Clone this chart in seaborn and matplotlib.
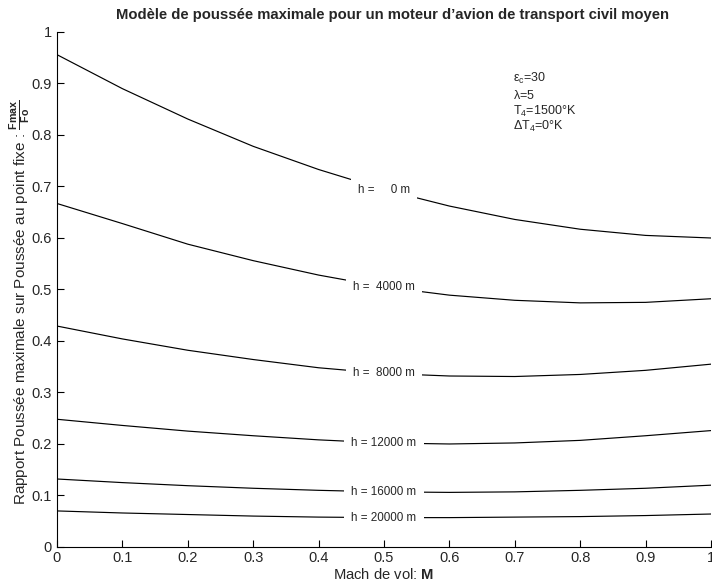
import matplotlib
matplotlib.use("Agg")
import matplotlib.pyplot as plt
import pandas as pd
import seaborn as sns

# Mach numbers and thrust ratio, one list per altitude
mach = [0.0, 0.1, 0.2, 0.3, 0.4, 0.5, 0.6, 0.7, 0.8, 0.9, 1.0]
altitudes = [0, 4000, 8000, 12000, 16000, 20000]
ratio_0 = [0.956, 0.890, 0.831, 0.778, 0.733, 0.694, 0.662, 0.636, 0.617, 0.605, 0.600]
ratio_4000 = [0.667, 0.628, 0.588, 0.556, 0.528, 0.505, 0.489, 0.479, 0.474, 0.475, 0.482]
ratio_8000 = [0.429, 0.404, 0.382, 0.364, 0.348, 0.337, 0.332, 0.331, 0.335, 0.343, 0.355]
ratio_12000 = [0.248, 0.236, 0.225, 0.216, 0.208, 0.202, 0.200, 0.202, 0.207, 0.216, 0.226]
ratio_16000 = [0.132, 0.125, 0.119, 0.114, 0.110, 0.107, 0.106, 0.107, 0.110, 0.114, 0.120]
ratio_20000 = [0.070, 0.066, 0.063, 0.060, 0.058, 0.057, 0.057, 0.058, 0.059, 0.061, 0.064]
ticks = [0, 0.1, 0.2, 0.3, 0.4, 0.5, 0.6, 0.7, 0.8, 0.9, 1]
tick_labels = ["0", "0.1", "0.2", "0.3", "0.4", "0.5", "0.6", "0.7", "0.8", "0.9", "1"]

series = [ratio_0, ratio_4000, ratio_8000, ratio_12000, ratio_16000, ratio_20000]
frames = []
for h, r in zip(altitudes, series):
    frames.append(pd.DataFrame({"M": mach, "ratio": r, "h": h}))
df = pd.concat(frames, ignore_index=True)

sns.set_style("ticks")
plt.rcParams["font.family"] = ["Liberation Sans", "DejaVu Sans"]
plt.rcParams["mathtext.fontset"] = "custom"
plt.rcParams["mathtext.rm"] = "Liberation Sans"
plt.rcParams["mathtext.it"] = "Liberation Sans"
plt.rcParams["mathtext.bf"] = "Liberation Sans:bold"
plt.rcParams["xtick.direction"] = "in"
plt.rcParams["ytick.direction"] = "in"

fig = plt.figure(figsize=(7.12, 5.86), dpi=100)
ax = fig.add_axes([0.080, 0.0666, 0.9186, 0.8788])

sns.lineplot(data=df, x="M", y="ratio", units="h", estimator=None,
             color="black", linewidth=0.85, ax=ax)

# inline labels at M = 0.5, white box breaks the line like clabel
mid = mach.index(0.5)
for h, r in zip(altitudes, series):
    ax.text(mach[mid], r[mid], f"h = {h:5d} m",
            ha="center", va="center", fontsize=8.4,
            bbox=dict(boxstyle="square,pad=0.6", facecolor="white", edgecolor="none"))

ax.text(0.697, 0.909, r"$\varepsilon_{c}$=30", fontsize=9, va="center")
ax.text(0.697, 0.876, r"$\lambda$=5", fontsize=9, va="center")
ax.text(0.697, 0.846, r"T$_{4}$=1500°K", fontsize=9, va="center")
ax.text(0.697, 0.816, r"$\Delta$T$_{4}$=0°K", fontsize=9, va="center")

ax.set_xlim(0, 1)
ax.set_ylim(0, 1)
ax.set_xticks(ticks)
ax.set_xticklabels(tick_labels)
ax.set_yticks(ticks)
ax.set_yticklabels(tick_labels)
ax.tick_params(labelsize=10.5, length=5, width=0.8, color="black")
ax.tick_params(axis="x", pad=3)
for s in ["left", "bottom"]:
    ax.spines[s].set_linewidth(0.8)
    ax.spines[s].set_color("black")
sns.despine(ax=ax)

ax.set_xlabel(r"Mach de vol: $\mathbf{M}$", fontsize=10.6, labelpad=1)
ax.set_ylabel(r"Rapport Poussée maximale sur Poussée au point fixe : $\frac{\mathbf{Fmax}}{\mathbf{Fo}}$",
              fontsize=11)
ax.yaxis.set_label_coords(-0.036, 0.476)
ax.set_title("Modèle de poussée maximale pour un moteur d’avion de transport civil moyen",
             fontsize=10.7, fontweight="bold", pad=9, x=0.513)

fig.savefig("out.png", dpi=100)
